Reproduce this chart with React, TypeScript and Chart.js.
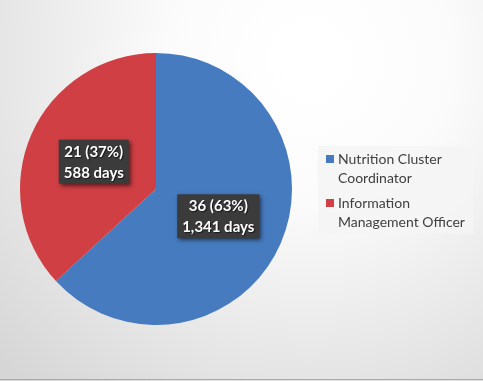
import React, { useEffect, useRef } from "react";
import { Chart, registerables } from "chart.js";

Chart.register(...registerables);

const categories = ["Nutrition Cluster Coordinator", "Information Management Officer"];
const counts = [36, 21];
const days = [1341, 588];
const colors = ["#467BBF", "#CF3F43"];

const FONT = "Lato, 'Open Sans', sans-serif";

function wrap(ctx: CanvasRenderingContext2D, text: string, maxW: number): string[] {
  const words = text.split(" ");
  const lines: string[] = [];
  let cur = "";
  for (const w of words) {
    const t = cur ? cur + " " + w : w;
    if (cur && ctx.measureText(t).width > maxW) {
      lines.push(cur);
      cur = w;
    } else cur = t;
  }
  if (cur) lines.push(cur);
  return lines;
}

const bgPlugin = {
  id: "bg",
  beforeDraw(chart: any) {
    const { ctx, width, height } = chart;
    ctx.save();
    const g = ctx.createRadialGradient(310, 60, 20, 310, 60, 430);
    g.addColorStop(0, "#ffffff");
    g.addColorStop(0.3, "#fbfbfb");
    g.addColorStop(1, "#d6d6d6");
    ctx.fillStyle = g;
    ctx.fillRect(0, 0, width, height);
    ctx.fillStyle = "#a9a9a9";
    ctx.fillRect(0, height - 2, width, 1);
    ctx.restore();
  },
};

const labelPlugin = {
  id: "boxLabels",
  afterDatasetsDraw(chart: any) {
    const { ctx } = chart;
    const meta = chart.getDatasetMeta(0);
    const total = counts.reduce((a, b) => a + b, 0);
    ctx.save();
    ctx.font = `bold 15px ${FONT}`;
    meta.data.forEach((arc: any, i: number) => {
      const p = arc.tooltipPosition(false);
      const l1 = `${counts[i]} (${Math.round((counts[i] / total) * 100)}%)`;
      const l2 = `${days[i].toLocaleString("en-US")} days`;
      const w = Math.max(ctx.measureText(l1).width, ctx.measureText(l2).width) + 10;
      const h = 44;
      ctx.save();
      ctx.shadowColor = "rgba(0,0,0,0.55)";
      ctx.shadowBlur = 4;
      ctx.shadowOffsetX = 2;
      ctx.shadowOffsetY = 2;
      ctx.fillStyle = "#3b3b3b";
      ctx.fillRect(p.x - w / 2, p.y - h / 2, w, h);
      ctx.restore();
      ctx.save();
      ctx.fillStyle = "#ffffff";
      ctx.textAlign = "center";
      ctx.textBaseline = "middle";
      ctx.shadowColor = "rgba(0,0,0,0.6)";
      ctx.shadowBlur = 1;
      ctx.shadowOffsetX = 1;
      ctx.shadowOffsetY = 1;
      ctx.fillText(l1, p.x, p.y - 10);
      ctx.fillText(l2, p.x, p.y + 11);
      ctx.restore();
    });
    ctx.restore();
  },
};

const legendPlugin = {
  id: "sideLegend",
  afterDraw(chart: any) {
    const { ctx } = chart;
    ctx.save();
    ctx.fillStyle = "rgba(245,245,245,0.85)";
    ctx.fillRect(318, 146, 155, 88);
    ctx.font = `14px ${FONT}`;
    ctx.textBaseline = "middle";
    ctx.textAlign = "left";
    let y = 159;
    categories.forEach((c, i) => {
      ctx.fillStyle = colors[i];
      ctx.fillRect(326, y - 4, 8, 8);
      const lines = wrap(ctx, c, 135);
      ctx.fillStyle = "#404040";
      lines.forEach((ln, j) => {
        ctx.fillText(ln, 338, y + j * 19);
      });
      y += lines.length * 19 + 6;
    });
    ctx.restore();
  },
};

export default function App() {
  const ref = useRef<HTMLCanvasElement>(null);
  useEffect(() => {
    document.body.style.margin = "0";
    const chart = new Chart(ref.current!, {
      type: "pie",
      data: {
        labels: categories,
        datasets: [
          {
            data: counts,
            backgroundColor: colors,
            borderWidth: 0,
          },
        ],
      },
      options: {
        animation: false,
        responsive: false,
        layout: { padding: { left: 20, right: 191, top: 53, bottom: 56 } },
        plugins: {
          legend: { display: false },
          tooltip: { enabled: false },
        },
      },
      plugins: [bgPlugin, labelPlugin, legendPlugin],
    });
    return () => chart.destroy();
  }, []);
  return (
    <div style={{ width: 483, height: 381 }}>
      <canvas ref={ref} width={483} height={381} style={{ display: "block" }} />
    </div>
  );
}
